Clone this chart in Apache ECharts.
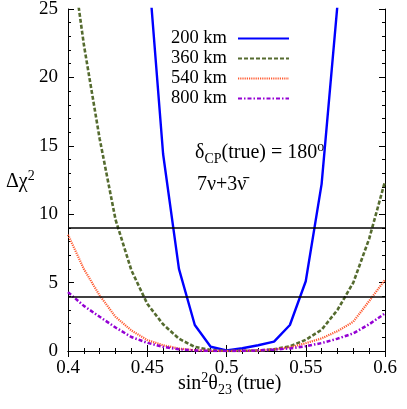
<!DOCTYPE html>
<html>
<head>
<meta charset="utf-8">
<script src="https://cdn.jsdelivr.net/npm/echarts@6/dist/echarts.min.js"></script>
<style>
  html, body { margin: 0; padding: 0; background: #fff; }
  #chart { width: 407px; height: 409px; }
</style>
</head>
<body>
<div id="chart"></div>
<script>
const FONT = "Liberation Serif";

const SIN2 = [0.40, 0.41, 0.42, 0.43, 0.44, 0.45, 0.46, 0.47, 0.48, 0.49, 0.50,
              0.51, 0.52, 0.53, 0.54, 0.55, 0.56, 0.57, 0.58, 0.59, 0.60];

const KM200 = [null, null, null, null, null, 29.1, 14.4, 6.0, 1.9, 0.31, 0.05,
               0.2, 0.42, 0.68, 1.9, 5.1, 12.2, 25.3, null, null, null];
const KM360 = [30.8, 22.4, 15.5, 9.6, 5.9, 3.45, 1.95, 0.9, 0.3, 0.07, 0,
               0.01, 0.03, 0.12, 0.35, 0.82, 1.55, 3.0, 5.0, 8.2, 12.4];
const KM540 = [8.5, 6.0, 4.05, 2.5, 1.5, 0.8, 0.42, 0.18, 0.06, 0.015, 0,
               0.01, 0.04, 0.12, 0.27, 0.57, 0.92, 1.45, 2.14, 3.65, 5.2];
const KM800 = [4.3, 3.3, 2.5, 1.72, 1.02, 0.6, 0.3, 0.12, 0.04, 0.01, 0,
               0.01, 0.04, 0.1, 0.19, 0.35, 0.58, 0.9, 1.29, 1.95, 2.75];

const LABELS = ["200 km", "360 km", "540 km", "800 km"];
const REF_LEVELS = [9, 4];

const pairs = (ys) => SIN2.map((x, i) => [x, ys[i]]);

const chart = echarts.init(document.getElementById("chart"), null, { renderer: "canvas" });

const baseRich = {
  a: { fontFamily: FONT, fontSize: 20, color: "#000", lineHeight: 26 },
  p: { fontFamily: FONT, fontSize: 14, color: "#000", lineHeight: 20, verticalAlign: "top" },
  b: { fontFamily: FONT, fontSize: 14, color: "#000", lineHeight: 10, verticalAlign: "bottom" },
  o: { fontFamily: FONT, fontSize: 14, color: "#000", lineHeight: 8, verticalAlign: "top" },
};

const xAxisCommon = {
  type: "value",
  min: 0.4,
  max: 0.6,
  interval: 0.05,
  axisLine: { show: true, lineStyle: { color: "#000", width: 1 } },
  axisTick: { show: true, inside: true, length: 6, lineStyle: { color: "#000" } },
  minorTick: { show: true, splitNumber: 5, length: 3, lineStyle: { color: "#000" } },
  splitLine: { show: false },
};
const yAxisCommon = {
  type: "value",
  min: 0,
  max: 25,
  interval: 5,
  axisLine: { show: true, lineStyle: { color: "#000", width: 1 } },
  axisTick: { show: true, inside: true, length: 6, lineStyle: { color: "#000" } },
  minorTick: { show: true, splitNumber: 5, length: 3, lineStyle: { color: "#000" } },
  splitLine: { show: false },
};

const curve = (name, ys, color, width, type) => ({
  name,
  type: "line",
  data: pairs(ys),
  symbol: "none",
  clip: true,
  connectNulls: false,
  lineStyle: { color, width, type },
  itemStyle: { color },
});

const option = {
  animation: false,
  backgroundColor: "#fff",
  grid: { left: 68, right: 22, top: 9, bottom: 58, containLabel: false, outerBoundsMode: "none" },
  legend: {
    data: LABELS,
    orient: "vertical",
    right: 112,
    top: 24,
    align: "right",
    itemWidth: 51,
    itemHeight: 14,
    itemGap: 1,
    selectedMode: false,
    itemStyle: { opacity: 0 },
    textStyle: { fontFamily: FONT, fontSize: 18.5, color: "#000", padding: [0, 6, 0, 0] },
  },
  xAxis: [
    Object.assign({}, xAxisCommon, {
      position: "bottom",
      axisLabel: { margin: 8, fontFamily: FONT, fontSize: 19, color: "#000" },
    }),
    Object.assign({}, xAxisCommon, { position: "top", axisLabel: { show: false } }),
  ],
  yAxis: [
    Object.assign({}, yAxisCommon, {
      position: "left",
      axisLabel: { margin: 10, fontFamily: FONT, fontSize: 19, color: "#000" },
    }),
    Object.assign({}, yAxisCommon, { position: "right", axisLabel: { show: false } }),
  ],
  series: [
    Object.assign(curve(LABELS[0], KM200, "#0000ff", 2.4, "solid"), {
      markLine: {
        silent: true,
        symbol: ["none", "none"],
        label: { show: false },
        lineStyle: { color: "#000", type: "solid", width: 1.5 },
        data: REF_LEVELS.map((v) => ({ yAxis: v })),
      },
    }),
    curve(LABELS[1], KM360, "#556b2f", 2.6, [4, 2]),
    curve(LABELS[2], KM540, "#ff5a30", 2.2, [1.2, 1]),
    curve(LABELS[3], KM800, "#9400d3", 2.5, [4, 2, 1.5, 2]),
  ],
  graphic: [
    {
      type: "text", x: 6, y: 182,
      style: { text: "{a|Δχ}{p|2}", rich: baseRich, textAlign: "left", textVerticalAlign: "middle" },
    },
    {
      type: "text", x: 178, y: 384,
      style: { text: "{a|sin}{p|2}{a|θ}{b|23}{a| (true)}", rich: baseRich, textAlign: "left", textVerticalAlign: "middle" },
    },
    {
      type: "text", x: 195, y: 153,
      style: { text: "{a|δ}{b|CP}{a|(true) = 180}{o|o}", rich: baseRich, textAlign: "left", textVerticalAlign: "middle" },
    },
    {
      type: "text", x: 197, y: 185,
      style: { text: "{a|7ν+3ν̄}", rich: baseRich, textAlign: "left", textVerticalAlign: "middle" },
    },
  ],
};

chart.setOption(option);
</script>
</body>
</html>
